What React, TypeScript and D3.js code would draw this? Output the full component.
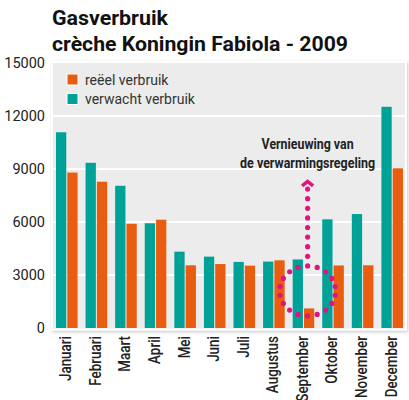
import React, { useRef, useEffect } from "react";
import * as d3 from "d3";

const months = ["Januari", "Februari", "Maart", "April", "Mei", "Juni", "Juli", "Augustus", "September", "Oktober", "November", "December"];
const reeel = [8800, 8280, 5900, 6130, 3550, 3620, 3530, 3830, 1110, 3540, 3550, 9040];
const verwacht = [11080, 9350, 8050, 5930, 4320, 4040, 3740, 3760, 3880, 6150, 6450, 12520];
const yTicks = [0, 3000, 6000, 9000, 12000, 15000];
const legendLabels = ["reëel verbruik", "verwacht verbruik"];
const titleLines = ["Gasverbruik", "crèche Koningin Fabiola - 2009"];
const noteLines = ["Vernieuwing van", "de verwarmingsregeling"];
const noteMonth = "September";
const noteCircleValue = 2100; // middle of the dotted ring
const noteArrowValue = 8380; // tip of the arrow

const ORANGE = "#e95d10";
const TEAL = "#00a197";
const PINK = "#e2137e";
const PANEL = "#ebeceb";

const W = 409, H = 400;

const App = () => {
  const svgRef = useRef(null);

  useEffect(() => {
    const svg = d3.select(svgRef.current);
    svg.selectAll("*").remove();

    const left = 52, right = 407, top = 63, bottom = 328;

    const x = d3.scaleBand().domain(months).range([left, right]).paddingInner(0).paddingOuter(0);
    const y = d3.scaleLinear().domain([0, 15000]).range([bottom, top]);
    const sub = d3.scaleBand().domain(["verwacht", "reeel"]).range([4, x.bandwidth() - 4]).paddingInner(0.09);

    const defs = svg.append("defs");
    const f = defs.append("filter").attr("id", "shadow").attr("x", "-5%").attr("y", "-5%").attr("width", "110%").attr("height", "110%");
    f.append("feDropShadow").attr("dx", 1).attr("dy", 1.5).attr("stdDeviation", 1.5).attr("flood-color", "#000").attr("flood-opacity", 0.22);

    // panel
    svg.append("rect")
      .attr("x", left).attr("y", top - 1)
      .attr("width", right - left - 1).attr("height", bottom - top + 2.5)
      .attr("fill", PANEL).attr("stroke", "#fff").attr("stroke-width", 2)
      .attr("filter", "url(#shadow)");

    // gridlines
    svg.append("g").selectAll("line")
      .data(yTicks.filter(d => d > 0 && d < 15000))
      .enter().append("line")
      .attr("x1", left + 1).attr("x2", right - 2)
      .attr("y1", d => y(d)).attr("y2", d => y(d))
      .attr("stroke", "#fff").attr("stroke-width", 2);

    // y axis labels
    svg.append("g").selectAll("text")
      .data(yTicks)
      .enter().append("text")
      .attr("x", 45).attr("y", d => y(d))
      .attr("text-anchor", "end").attr("dominant-baseline", "central")
      .attr("font-family", "Roboto, sans-serif").attr("font-size", 14.5)
      .attr("fill", "#222")
      .text(d => d);

    // bars
    const bars = svg.append("g");
    bars.selectAll(".teal")
      .data(verwacht)
      .enter().append("rect")
      .attr("class", "teal")
      .attr("x", (d, i) => x(months[i]) + sub("verwacht"))
      .attr("width", sub.bandwidth())
      .attr("y", d => y(d)).attr("height", d => y(0) - y(d))
      .attr("fill", TEAL);
    bars.selectAll(".orange")
      .data(reeel)
      .enter().append("rect")
      .attr("class", "orange")
      .attr("x", (d, i) => x(months[i]) + sub("reeel"))
      .attr("width", sub.bandwidth())
      .attr("y", d => y(d)).attr("height", d => y(0) - y(d))
      .attr("fill", ORANGE);

    // x labels (condensed look: squeeze along the text)
    svg.append("g").selectAll("text")
      .data(months)
      .enter().append("text")
      .attr("transform", d => `translate(${x(d) + x.bandwidth() / 2 - 1},${bottom + 8}) rotate(-90) scale(0.84,1)`)
      .attr("text-anchor", "end").attr("dominant-baseline", "central")
      .attr("font-family", "Roboto, sans-serif")
      .attr("font-weight", 500)
      .attr("font-size", 16)
      .attr("fill", "#222")
      .text(d => d);

    // legend
    const legend = svg.append("g");
    [ORANGE, TEAL].forEach((c, i) => {
      legend.append("rect")
        .attr("x", 67).attr("y", 74 + i * 19.5)
        .attr("width", 11).attr("height", 11)
        .attr("fill", c).attr("stroke", "#fff").attr("stroke-width", 1);
      legend.append("text")
        .attr("x", 85).attr("y", 79.5 + i * 19.5)
        .attr("dominant-baseline", "central")
        .attr("font-family", "Roboto, sans-serif").attr("font-size", 14)
        .attr("fill", "#333")
        .text(legendLabels[i]);
    });

    // title
    svg.append("g").selectAll("text")
      .data(titleLines)
      .enter().append("text")
      .attr("x", 52).attr("y", (d, i) => 25 + i * 26)
      .attr("font-family", "Roboto, sans-serif").attr("font-weight", "bold")
      .attr("font-size", 20.5).attr("fill", "#111")
      .attr("textLength", (d, i) => (i === 0 ? 116 : 296))
      .attr("lengthAdjust", "spacingAndGlyphs")
      .text(d => d);

    // annotation
    const cx = x(noteMonth) + sub("reeel") + sub.bandwidth() / 2 - 1.5;
    const cy = y(noteCircleValue);
    const rx = 28, ry = 25;
    const note = svg.append("g");
    note.selectAll(".ring")
      .data(d3.range(18))
      .enter().append("circle")
      .attr("cx", i => cx + rx * Math.sin((i * 2 * Math.PI) / 18))
      .attr("cy", i => cy - ry * Math.cos((i * 2 * Math.PI) / 18))
      .attr("r", 2.6).attr("fill", PINK);
    const tip = y(noteArrowValue);
    const stem = d3.range(cy - ry - 9.6, tip + 8, -9.6);
    note.selectAll(".stem")
      .data(stem)
      .enter().append("circle")
      .attr("cx", cx).attr("cy", d => d)
      .attr("r", 2.6).attr("fill", PINK);
    note.append("path")
      .attr("d", d3.line()([[cx - 5.5, tip + 6], [cx, tip + 1.5], [cx + 5.5, tip + 6]]))
      .attr("fill", "none").attr("stroke", PINK).attr("stroke-width", 3.5);
    note.selectAll("text")
      .data(noteLines)
      .enter().append("text")
      .attr("x", cx).attr("y", (d, i) => 149 + i * 19)
      .attr("text-anchor", "middle")
      .attr("font-family", "Roboto, sans-serif")
      .attr("font-weight", "bold").attr("font-size", 14.5)
      .attr("textLength", (d, i) => (i === 0 ? 92 : 135))
      .attr("lengthAdjust", "spacingAndGlyphs")
      .attr("fill", "#222")
      .text(d => d);
  }, []);

  return (
    <svg ref={svgRef} width={W} height={H} style={{ position: "absolute", left: 0, top: 0, background: "#fff" }} />
  );
};

export default App;
